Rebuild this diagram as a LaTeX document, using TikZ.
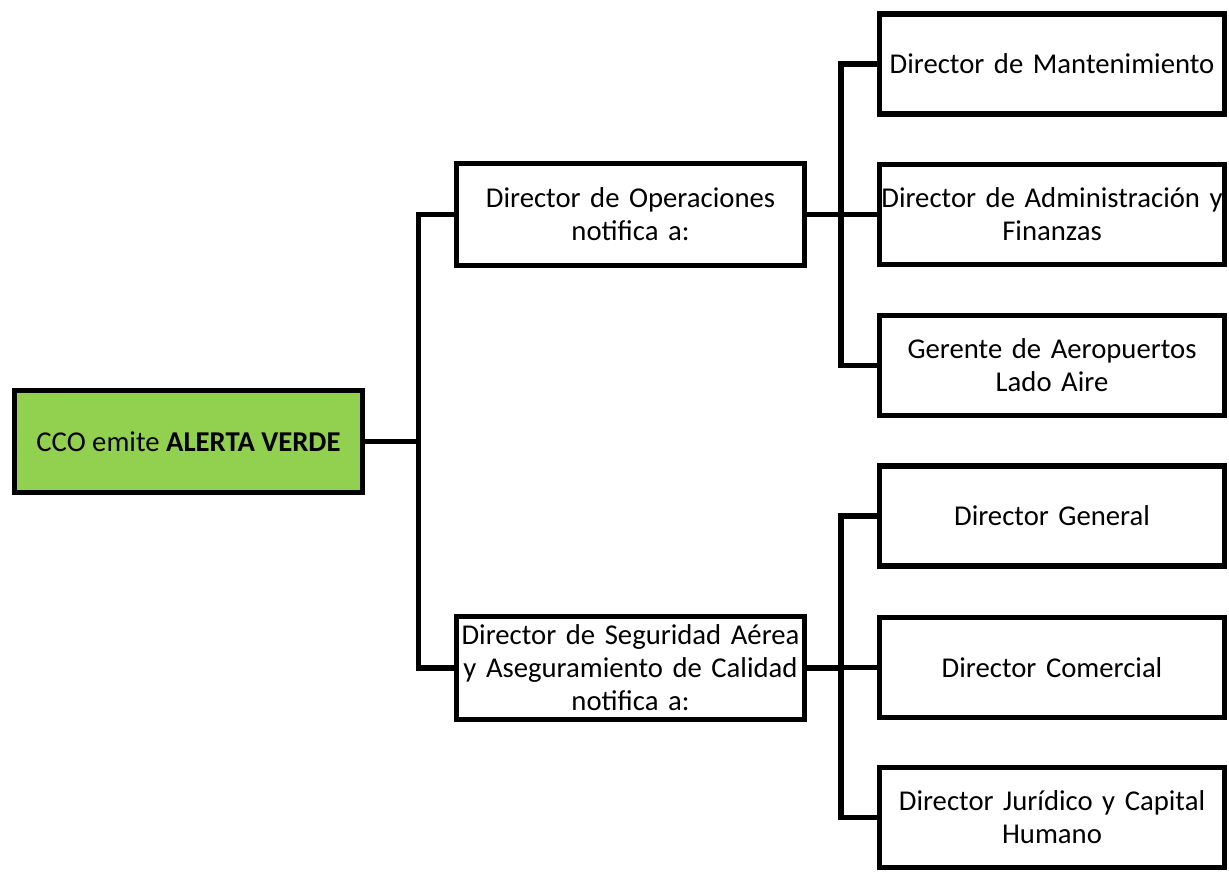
\documentclass[tikz,border=0pt]{standalone}
\usepackage{fontspec}
\setmainfont{Carlito}
\begin{document}
\begin{tikzpicture}[x=1pt,y=-1pt,
  box/.style={draw=black,line width=5.5pt,fill=white,minimum width=#1,align=center,inner sep=0pt,
    font=\fontsize{28.7}{33}\selectfont},
  box/.default=348,
  conn/.style={line width=5.5pt,draw=black}]
\useasboundingbox (0,0) rectangle (1229,872);
\node[box, fill={rgb,255:red,146;green,208;blue,80}, minimum height=102] (cco) at (188.5,441.5) {CCO emite \textbf{ALERTA VERDE}};
\node[box, minimum height=102, text width=348] (ops) at (630.5,214.5) {Director de Operaciones\\notifica a:};
\node[box, minimum height=103, text width=348] (seg) at (630.5,668) {Director de Seguridad Aérea\\y Aseguramiento de Calidad\\notifica a:};
\node[box=345, minimum height=100, text width=345] (r1) at (1052,64) {Director de Mantenimiento};
\node[box=345, minimum height=100, text width=345] (r2) at (1052,214.5) {Director de Administración y\\Finanzas};
\node[box=345, minimum height=100, text width=345] (r3) at (1052,365.5) {Gerente de Aeropuertos\\Lado Aire};
\node[box=345, minimum height=100, text width=345] (r4) at (1052,516) {Director General};
\node[box=345, minimum height=100, text width=345] (r5) at (1052,667.5) {Director Comercial};
\node[box=345, minimum height=100, text width=345] (r6) at (1052,817.5) {Director Jurídico y Capital\\Humano};
\coordinate (b1) at (418.5,0);
\coordinate (b2) at (841,0);
\draw[conn] (cco.east) -- (cco.east -| b1);
\draw[conn] (ops.west) -- (ops.west -| b1) -- (seg.west -| b1) -- (seg.west);
\draw[conn] (ops.east) -- (ops.east -| b2);
\draw[conn] (r1.west) -- (r1.west -| b2) -- (r3.west -| b2) -- (r3.west);
\draw[conn] (r2.west) -- (r2.west -| b2);
\draw[conn] (seg.east) -- (seg.east -| b2);
\draw[conn] (r4.west) -- (r4.west -| b2) -- (r6.west -| b2) -- (r6.west);
\draw[conn] (r5.west) -- (r5.west -| b2);
\end{tikzpicture}
\end{document}
